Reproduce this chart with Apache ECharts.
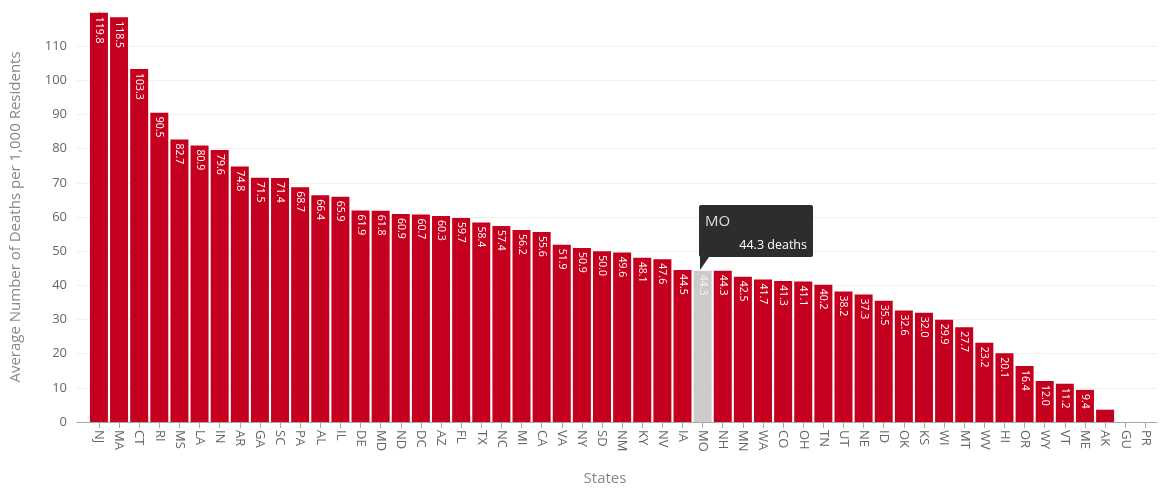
<!DOCTYPE html>
<html>
<head>
<meta charset="utf-8">
<script src="https://cdn.jsdelivr.net/npm/echarts@6/dist/echarts.min.js"></script>
<style>
  html, body { margin: 0; padding: 0; background: #fff; }
  #chart { width: 1160px; height: 489px; }
</style>
</head>
<body>
<div id="chart"></div>
<script>
// States ranked by average deaths per 1,000 residents
const states = ['NJ','MA','CT','RI','MS','LA','IN','AR','GA','SC','PA','AL','IL','DE','MD','ND','DC','AZ','FL','TX','NC','MI','CA','VA','NY','SD','NM','KY','NV','IA','MO','NH','MN','WA','CO','OH','TN','UT','NE','ID','OK','KS','WI','MT','WV','HI','OR','WY','VT','ME','AK','GU','PR'];
const deaths = [119.8,118.5,103.3,90.5,82.7,80.9,79.6,74.8,71.5,71.4,68.7,66.4,65.9,61.9,61.8,60.9,60.7,60.3,59.7,58.4,57.4,56.2,55.6,51.9,50.9,50.0,49.6,48.1,47.6,44.5,44.3,44.3,42.5,41.7,41.3,41.1,40.2,38.2,37.3,35.5,32.6,32.0,29.9,27.7,23.2,20.1,16.4,12.0,11.2,9.4,3.6,0,0];
const yTicks = [0,10,20,30,40,50,60,70,80,90,100,110];
const activeState = 'MO';

const FONT = '"Open Sans", "Noto Sans", sans-serif';
const BAR_RED = '#c4001e';
const indices = states.map((_, i) => i);

const chart = echarts.init(document.getElementById('chart'), null, { renderer: 'canvas' });

chart.setOption({
  animation: false,
  textStyle: { fontFamily: FONT },
  grid: { left: 77, right: 3, top: 12, bottom: 67, containLabel: false, outerBoundsMode: 'none' },
  xAxis: {
    type: 'value',
    min: -1.09,
    max: 52.58,
    name: 'States',
    nameLocation: 'middle',
    nameGap: 49,
    nameTextStyle: { color: '#888', fontSize: 15, fontFamily: FONT, padding: [0, 24, 0, 0] },
    axisLine: { show: true, lineStyle: { color: '#a8a8a8', width: 1 } },
    axisTick: { show: true, customValues: indices, length: 6, lineStyle: { color: '#a8a8a8' } },
    axisLabel: {
      customValues: indices,
      rotate: -90,
      margin: 8,
      color: '#666',
      fontSize: 13,
      fontFamily: FONT,
      formatter: v => states[Math.round(v)] || ''
    },
    splitLine: { show: false }
  },
  yAxis: {
    type: 'value',
    min: 0,
    max: 120,
    interval: 10,
    name: 'Average Number of Deaths per 1,000 Residents',
    nameLocation: 'middle',
    nameGap: 54,
    nameTextStyle: { color: '#888', fontSize: 15, fontFamily: FONT },
    axisLine: { show: true, lineStyle: { color: '#a8a8a8', width: 1 } },
    axisTick: { show: true, length: 6, lineStyle: { color: '#a8a8a8' } },
    axisLabel: {
      showMaxLabel: false,
      margin: 10,
      color: '#666',
      fontSize: 13,
      fontFamily: FONT,
      formatter: v => (yTicks.indexOf(v) >= 0 ? String(v) : '')
    },
    splitLine: { show: true, showMaxLine: false, lineStyle: { color: '#f0f0f0', width: 1 } }
  },
  tooltip: {
    trigger: 'item',
    triggerOn: 'none',
    alwaysShowContent: true,
    transitionDuration: 0,
    backgroundColor: 'rgba(34,34,34,0.95)',
    borderWidth: 0,
    padding: [6, 6, 4, 6],
    extraCssText: 'box-shadow:none;border-radius:2px;overflow:visible;',
    formatter: p => {
      const v = p.value[1].toFixed(1);
      return '<div style="width:102px;font-family:' + FONT.replace(/"/g, "'") + ';">' +
        '<div style="font-size:15px;line-height:18px;color:#ddd;">' + states[p.value[0]] + '</div>' +
        '<div style="margin-top:8px;font-size:12.5px;line-height:16px;color:#fff;text-align:right;">' + v + ' deaths</div>' +
        '<div style="position:absolute;left:1px;top:100%;width:0;height:0;border-top:13px solid rgba(34,34,34,0.95);border-right:9px solid transparent;"></div>' +
        '</div>';
    },
    position: (point, params, dom, rect, size) => [rect.x + 5, rect.y - size.contentSize[1] - 14]
  },
  series: [{
    type: 'bar',
    barWidth: 18,
    data: states.map((s, i) => [i, deaths[i]]),
    itemStyle: { color: BAR_RED },
    emphasis: {
      focus: 'none',
      itemStyle: { color: '#cbcbcb' },
      label: { color: '#f4f4f4' }
    },
    label: {
      show: true,
      position: 'insideTop',
      distance: 4,
      rotate: -90,
      align: 'left',
      verticalAlign: 'middle',
      color: '#fff',
      fontSize: 10.5,
      fontFamily: FONT,
      formatter: p => (p.value[1] >= 5 ? p.value[1].toFixed(1) : '')
    }
  }]
});

const activeIndex = states.indexOf(activeState);
chart.dispatchAction({ type: 'highlight', seriesIndex: 0, dataIndex: activeIndex });
chart.dispatchAction({ type: 'showTip', seriesIndex: 0, dataIndex: activeIndex });
</script>
</body>
</html>
